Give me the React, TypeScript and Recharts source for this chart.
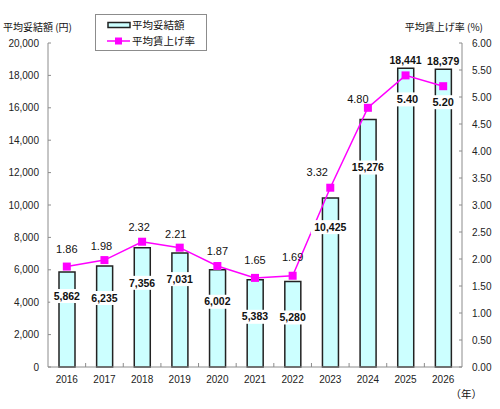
import { ComposedChart, Bar, Line, XAxis, YAxis, LabelList } from 'recharts';

const years = ['2016', '2017', '2018', '2019', '2020', '2021', '2022', '2023', '2024', '2025', '2026'];
const wages = [5862, 6235, 7356, 7031, 6002, 5383, 5280, 10425, 15276, 18441, 18379];
const rates = [1.86, 1.98, 2.32, 2.21, 1.87, 1.65, 1.69, 3.32, 4.8, 5.4, 5.2];
const wageTicks = [0, 2000, 4000, 6000, 8000, 10000, 12000, 14000, 16000, 18000, 20000];
const rateTicks = [0, 0.5, 1, 1.5, 2, 2.5, 3, 3.5, 4, 4.5, 5, 5.5, 6];

// label nudges so the value boxes don't collide with the line
const wageLabelDy = [24, 32, 35, 26, 32, 37, 36, 29, 48, -8, -8];
const rateLabelDx = [0, -3, -3, -4, 0, 0, 0, -13, -10, 2, 0];
const rateLabelDy = [-17, -14, -15, -14, -15, -18, -19, -16, -9, 24, 16];

const data = years.map((year, i) => ({ year, wage: wages[i], rate: rates[i] }));

const W = 500;
const H = 409;
const LEFT = 48;
const RIGHT = 38;
const band = (W - LEFT - RIGHT) / years.length;

const FONT = '"Liberation Sans", Arial, "Noto Sans CJK JP", sans-serif';
const CJK = '"Noto Sans CJK JP", sans-serif';
const AXIS = '#8c8c8c';
const MAGENTA = '#ff00ff';

const textWidth = (s: string, size: number) =>
  s.split('').reduce((w, c) => w + (c === ',' || c === '.' ? 0.278 : 0.556) * size, 0);

const LeftTick = (props: any) => {
  const { x, y, payload } = props;
  return (
    <g>
      <line x1={x} x2={x + 3} y1={y} y2={y} stroke={AXIS} />
      <text x={x - 9} y={y} dy="0.35em" textAnchor="end" fontSize={10} fill="#222" fontFamily={FONT}>
        {payload.value.toLocaleString('en-US')}
      </text>
    </g>
  );
};

const RightTick = (props: any) => {
  const { x, y, payload } = props;
  return (
    <g>
      <line x1={x} x2={x - 3} y1={y} y2={y} stroke={AXIS} />
      <text x={x + 10} y={y} dy="0.35em" textAnchor="start" fontSize={10} fill="#222" fontFamily={FONT}>
        {payload.value.toFixed(2)}
      </text>
    </g>
  );
};

const YearTick = (props: any) => {
  const { x, y, payload, index } = props;
  return (
    <g>
      {index > 0 && <line x1={x - band / 2} x2={x - band / 2} y1={y} y2={y - 4} stroke={AXIS} />}
      <text x={x} y={y + 16} textAnchor="middle" fontSize={10} fill="#222" fontFamily={FONT}>
        {payload.value}
      </text>
    </g>
  );
};

const Square = (props: any) => {
  const { cx, cy } = props;
  if (cx == null || cy == null) return null;
  return <rect x={cx - 4} y={cy - 4} width={8} height={8} fill={MAGENTA} />;
};

const BoxedText = ({ x, y, text, size, bold, boxed }: any) => {
  const w = textWidth(text, size) + (bold ? 3 : 0);
  return (
    <g>
      {boxed && <rect x={x - w / 2 - 2} y={y - 7} width={w + 4} height={14} fill="#fff" />}
      <text
        x={x}
        y={y}
        dy="0.35em"
        textAnchor="middle"
        fontSize={size}
        fontWeight={bold ? 'bold' : 'normal'}
        fill="#111"
        fontFamily={FONT}
      >
        {text}
      </text>
    </g>
  );
};

const WageLabel = (props: any) => {
  const { x, y, index, value } = props;
  const dy = wageLabelDy[index];
  return <BoxedText x={x} y={y + dy} text={value.toLocaleString('en-US')} size={10.5} bold boxed={dy > 0} />;
};

const RateLabel = (props: any) => {
  const { x, y, index, value } = props;
  const dy = rateLabelDy[index];
  const below = dy > 0;
  return (
    <BoxedText
      x={x + rateLabelDx[index]}
      y={y + dy}
      text={value.toFixed(2)}
      size={11}
      bold={below}
      boxed={below}
    />
  );
};

const ChartLegend = () => (
  <div
    style={{
      position: 'absolute',
      left: 95,
      top: 14,
      width: 110,
      height: 35,
      border: `1px solid ${AXIS}`,
      background: '#fff',
    }}
  >
    <svg width={110} height={35} style={{ position: 'absolute', left: 0, top: 0 }}>
      <rect x={12} y={7.5} width={22} height={5} fill="#ccffff" stroke="#222" strokeWidth={1.5} />
      <line x1={11} x2={34} y1={26} y2={26} stroke={MAGENTA} strokeWidth={1.5} />
      <rect x={19} y={22.5} width={7} height={7} fill={MAGENTA} />
      <text x={36} y={10} dy="0.35em" fontSize={10.5} fontFamily={CJK} fill="#111">平均妥結額</text>
      <text x={36} y={26} dy="0.35em" fontSize={10.5} fontFamily={CJK} fill="#111">平均賃上げ率</text>
    </svg>
  </div>
);

// axis titles and unit caption
const Captions = () => (
  <svg width={W} height={H} style={{ position: 'absolute', left: 0, top: 0, pointerEvents: 'none' }}>
    <text x={3} y={27} dy="0.35em" fontSize={10} fontFamily={CJK} fill="#111">平均妥結額 (円)</text>
    <text x={483} y={27} dy="0.35em" textAnchor="end" fontSize={10} fontFamily={CJK} fill="#111">平均賃上げ率 (%)</text>
    <text x={482} y={394} dy="0.35em" textAnchor="end" fontSize={10.5} fontFamily={CJK} fill="#111">（年）</text>
  </svg>
);

export default function App() {
  return (
    <div style={{ position: 'absolute', left: 0, top: 0, width: W, height: H, background: '#fff' }}>
      <ComposedChart width={W} height={H} data={data} margin={{ top: 43, right: 0, bottom: 12, left: 0 }}>
        <XAxis
          dataKey="year"
          height={30}
          tick={<YearTick />}
          tickLine={false}
          tickSize={0}
          tickMargin={0}
          stroke={AXIS}
          interval={0}
        />
        <YAxis
          yAxisId="wage"
          orientation="left"
          width={LEFT}
          domain={[0, 20000]}
          ticks={wageTicks}
          tick={<LeftTick />}
          tickLine={false}
          tickSize={0}
          tickMargin={0}
          stroke={AXIS}
        />
        <YAxis
          yAxisId="rate"
          orientation="right"
          width={RIGHT}
          domain={[0, 6]}
          ticks={rateTicks}
          tick={<RightTick />}
          tickLine={false}
          tickSize={0}
          tickMargin={0}
          stroke={AXIS}
        />
        <Bar
          yAxisId="wage"
          dataKey="wage"
          barSize={16}
          fill="#ccffff"
          stroke="#222"
          strokeWidth={1.5}
          isAnimationActive={false}
        />
        <Line
          yAxisId="rate"
          dataKey="rate"
          stroke={MAGENTA}
          strokeWidth={1.5}
          dot={<Square />}
          activeDot={false}
          isAnimationActive={false}
        >
          <LabelList dataKey="rate" content={<RateLabel />} />
        </Line>
        {/* invisible series carrying the wage labels so they sit above the line */}
        <Line
          yAxisId="wage"
          dataKey="wage"
          stroke="none"
          dot={false}
          activeDot={false}
          isAnimationActive={false}
        >
          <LabelList dataKey="wage" content={<WageLabel />} />
        </Line>
      </ComposedChart>
      <ChartLegend />
      <Captions />
    </div>
  );
}
